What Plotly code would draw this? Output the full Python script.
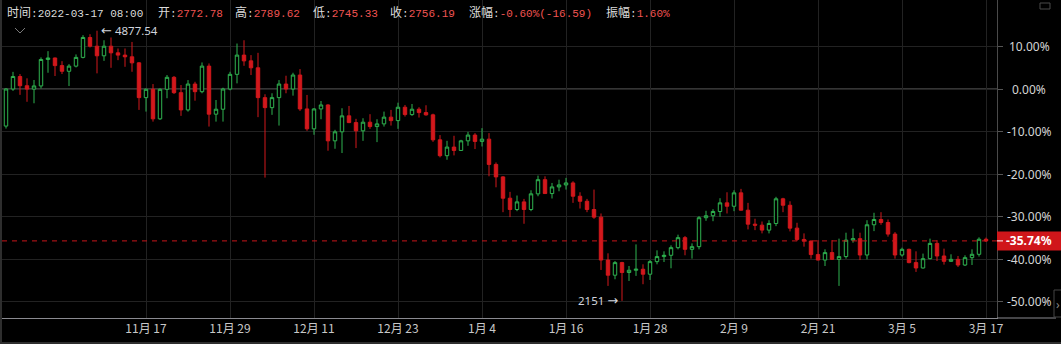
import plotly.graph_objects as go
import pandas as pd

# ---------------- data (ETH daily candles) ----------------
start_date = "2021-10-28"
opens = [3915, 4289, 4415, 4322, 4288, 4320, 4587, 4602, 4525, 4468,
         4520, 4608, 4809, 4721, 4624, 4721, 4654, 4631, 4614, 4553,
         4202, 4286, 3988, 4286, 4407, 4252, 4078, 4339, 4262, 4520,
         4035, 4085, 4289, 4437, 4631, 4573, 4503, 4202, 4101, 4202,
         4339, 4289, 4430, 4088, 3887, 4088, 4128, 3766, 3857, 4018,
         3950, 3867, 3954, 3910, 3937, 4005, 3970, 4105, 4031, 4085,
         4051, 4028, 3776, 3616, 3703, 3669, 3766, 3824, 3760, 3783,
         3528, 3402, 3187, 3073, 3150, 3073, 3231, 3374, 3234, 3301,
         3321, 3341, 3207, 3156, 3073, 2996, 2563, 2410, 2537, 2437,
         2460, 2470, 2420, 2547, 2598, 2611, 2688, 2789, 2671, 2698,
         2990, 3010, 3053, 3140, 3106, 3241, 3066, 2925, 2915, 2865,
         2932, 3181, 3116, 2885, 2771, 2754, 2618, 2563, 2638, 2570,
         2598, 2764, 2779, 2614, 2919, 2972, 2942, 2825, 2614, 2671,
         2537, 2483, 2577, 2731, 2604, 2550, 2570, 2513, 2587, 2621,
         2772.78]
highs = [4297, 4462, 4440, 4397, 4380, 4608, 4671, 4606, 4570, 4540,
         4638, 4832, 4842, 4877.54, 4781, 4809, 4698, 4698, 4764, 4560,
         4296, 4339, 4296, 4430, 4420, 4329, 4379, 4362, 4557, 4547,
         4178, 4302, 4463, 4748, 4781, 4631, 4654, 4236, 4246, 4379,
         4423, 4453, 4490, 4229, 4095, 4168, 4135, 3877, 4095, 4118,
         3988, 3994, 4035, 3984, 4061, 4078, 4151, 4128, 4138, 4105,
         4125, 4040, 3824, 3766, 3817, 3776, 3857, 3844, 3894, 3844,
         3548, 3410, 3251, 3214, 3180, 3267, 3415, 3408, 3341, 3374,
         3392, 3358, 3247, 3180, 3274, 3033, 2631, 2553, 2545, 2503,
         2721, 2520, 2563, 2661, 2651, 2711, 2819, 2805, 2731, 3006,
         3060, 3076, 3187, 3247, 3267, 3281, 3140, 2980, 2952, 2965,
         3201, 3191, 3156, 2939, 2832, 2762, 2764, 2671, 2764, 2779,
         2839, 2879, 2839, 2965, 3040, 3046, 2972, 2845, 2688, 2678,
         2651, 2628, 2779, 2764, 2678, 2621, 2604, 2611, 2671, 2792,
         2789.62]
lows = [3890, 4270, 4230, 4160, 4145, 4295, 4453, 4420, 4440, 4319,
        4507, 4598, 4708, 4447, 4573, 4503, 4580, 4513, 4463, 4078,
        4061, 3960, 3977, 4196, 4239, 4018, 4061, 4171, 4246, 3910,
        3960, 3960, 4276, 4346, 4523, 4430, 4005, 3395, 4028, 3920,
        4246, 4222, 4068, 3867, 3827, 3984, 3666, 3686, 3643, 3945,
        3693, 3766, 3887, 3753, 3910, 3920, 3887, 4011, 4018, 4001,
        4020, 3756, 3599, 3575, 3619, 3665, 3716, 3683, 3709, 3408,
        3297, 3046, 2996, 3056, 2929, 3056, 3207, 3230, 3184, 3257,
        3274, 3140, 3083, 3046, 2979, 2463, 2302, 2369, 2151, 2352,
        2403, 2319, 2362, 2520, 2543, 2480, 2671, 2611, 2577, 2671,
        2959, 2955, 3000, 3033, 3056, 3063, 2872, 2865, 2832, 2832,
        2905, 3046, 2852, 2754, 2698, 2577, 2560, 2503, 2565, 2302,
        2577, 2738, 2563, 2570, 2855, 2919, 2799, 2577, 2598, 2530,
        2443, 2477, 2570, 2553, 2517, 2545, 2493, 2503, 2513, 2598,
        2745.33]
closes = [4289.1, 4415, 4322, 4288, 4320, 4587, 4602, 4525, 4468, 4520,
          4608, 4809, 4721, 4624, 4721, 4654, 4631, 4614, 4553, 4202,
          4286, 3988, 4286, 4407, 4252, 4078, 4339, 4262, 4520, 4035,
          4085, 4289, 4437, 4631, 4573, 4503, 4202, 4101, 4202, 4339,
          4289, 4430, 4088, 3887, 4088, 4128, 3766, 3857, 4018, 3950,
          3867, 3954, 3910, 3937, 4005, 3970, 4105, 4031, 4085, 4051,
          4028, 3776, 3616, 3703, 3669, 3766, 3824, 3760, 3783, 3528,
          3402, 3187, 3073, 3150, 3073, 3231, 3374, 3234, 3301, 3321,
          3341, 3207, 3156, 3073, 2996, 2563, 2410, 2537, 2437, 2460,
          2470, 2420, 2547, 2598, 2611, 2688, 2789, 2671, 2698, 2990,
          3010, 3053, 3140, 3106, 3241, 3066, 2925, 2915, 2865, 2932,
          3181, 3116, 2885, 2771, 2754, 2618, 2563, 2638, 2570, 2598,
          2764, 2779, 2614, 2919, 2972, 2942, 2825, 2614, 2671, 2537,
          2483, 2577, 2731, 2604, 2550, 2570, 2513, 2587, 2621, 2772.78,
          2756.19]

tick_dates = ["2021-11-17", "2021-11-29", "2021-12-11", "2021-12-23", "2022-01-04",
              "2022-01-16", "2022-01-28", "2022-02-09", "2022-02-21", "2022-03-05",
              "2022-03-17"]
tick_labels = ["11月 17", "11月 29", "12月 11", "12月 23", "1月 4", "1月 16",
               "1月 28", "2月 9", "2月 21", "3月 5", "3月 17"]
pct_ticks = [10, 0, -10, -20, -30, -40, -50]

header = [("时间", "2022-03-17 08:00", 5, False),
          ("开", "2772.78", 156, True),
          ("高", "2789.62", 233, True),
          ("低", "2745.33", 311, True),
          ("收", "2756.19", 388, True),
          ("涨幅", "-0.60%(-16.59)", 467, True),
          ("振幅", "1.60%", 604, True)]

# ---------------- derived ----------------
dates = pd.date_range(start_date, periods=len(closes), freq="D")
base = closes[0]
last = closes[-1]
pct_top, pct_bottom = 20.94, -53.88
y_min = base * (1 + pct_bottom / 100)
y_max = base * (1 + pct_top / 100)
per_px = (y_max - y_min) / 318.0

W, H = 1061, 344
ML, MR, MT, MB = 2, 64, 0, 26
PW, PH = W - ML - MR, H - MT - MB


def X(px):
    return (px - ML) / PW


def Y(py):
    return 1 - (py - MT) / PH


GREEN = "#2fb350"
RED = "#d2181c"
GRID = "#222222"

fig = go.Figure()
fig.add_trace(go.Candlestick(
    x=dates, open=opens, high=highs, low=lows, close=closes,
    increasing=dict(line=dict(color=GREEN, width=1), fillcolor="#000000"),
    decreasing=dict(line=dict(color=RED, width=1), fillcolor=RED),
    whiskerwidth=0, hoverinfo="skip", showlegend=False,
))

x0 = dates[0] - pd.Timedelta(hours=13.7)
x1 = dates[0] + pd.Timedelta(days=141) + pd.Timedelta(hours=13.7)

shapes = []
annotations = []

# 0% line
shapes.append(dict(type="line", xref="paper", yref="y", x0=0, x1=1, y0=base, y1=base,
                   line=dict(color="#6a6a6a", width=1), layer="below"))
# dashed last-price line
shapes.append(dict(type="line", xref="paper", yref="y", x0=0, x1=1, y0=last, y1=last,
                   line=dict(color="#c8161a", width=1, dash="5px,5px")))
# last-price label box
hh = 9.5 * per_px
shapes.append(dict(type="rect", xref="paper", yref="y", x0=X(997), x1=X(1061),
                   y0=last - hh, y1=last + hh, fillcolor="#d0161a", line=dict(width=0)))
shapes.append(dict(type="line", xref="paper", yref="y", x0=X(997), x1=X(1003),
                   y0=last, y1=last, line=dict(color="#ffffff", width=1)))
pct_last = (last / base - 1) * 100
annotations.append(dict(xref="paper", yref="y", x=X(1029), y=last, text=f"<b>{pct_last:.2f}%</b>",
                        showarrow=False, xanchor="center", yanchor="middle",
                        font=dict(family="Noto Sans", size=12, color="#ffffff")))
# bottom axis line extension
shapes.append(dict(type="line", xref="paper", yref="paper", x0=1, x1=X(1056), y0=0, y1=0,
                   line=dict(color="#8a8a90", width=1)))
# borders
shapes.append(dict(type="line", xref="paper", yref="paper", x0=X(1), x1=X(1), y0=Y(0), y1=Y(344),
                   line=dict(color="#2e2e2e", width=2)))
shapes.append(dict(type="line", xref="paper", yref="paper", x0=X(0), x1=X(1061), y0=Y(343), y1=Y(343),
                   line=dict(color="#2e2e2e", width=2)))
# chevron top-left
shapes.append(dict(type="path", xref="paper", yref="paper",
                   path=f"M {X(15)},{Y(28)} L {X(20)},{Y(33)} L {X(25)},{Y(28)}",
                   line=dict(color="#7a7a7a", width=1)))
# small icon top-right
shapes.append(dict(type="rect", xref="paper", yref="paper", x0=X(1040), x1=X(1050),
                   y0=Y(9), y1=Y(3), line=dict(color="#4a4a4a", width=1)))
# right side tab
shapes.append(dict(type="rect", xref="paper", yref="paper", x0=X(1054), x1=X(1063),
                   y0=Y(317), y1=Y(290), line=dict(color="#444444", width=1), fillcolor="#000000"))
annotations.append(dict(xref="paper", yref="paper", x=X(1058), y=Y(304), text="›", showarrow=False,
                        font=dict(family="Noto Sans", size=12, color="#888888"),
                        xanchor="center", yanchor="middle"))

# y tick labels (centered in right gutter)
for p in pct_ticks:
    annotations.append(dict(xref="paper", yref="y", x=X(1029), y=base * (1 + p / 100),
                            text=f"{p:.2f}%", showarrow=False, xanchor="center", yanchor="middle",
                            font=dict(family="Noto Sans", size=12, color="#d4d4d4")))

# high / low markers
ARROW = "font-family:'DejaVu Sans';font-size:13px"
hi_i = max(range(len(highs)), key=lambda i: highs[i])
lo_i = min(range(len(lows)), key=lambda i: lows[i])
annotations.append(dict(x=dates[hi_i], y=highs[hi_i],
                        text=f"<span style=\"{ARROW}\">←</span> {highs[hi_i]:.2f}", showarrow=False,
                        xanchor="left", yanchor="middle", xshift=2,
                        font=dict(family="Noto Sans", size=11.5, color="#d0d4dc")))
annotations.append(dict(x=dates[lo_i], y=lows[lo_i],
                        text=f"{lows[lo_i]:g} <span style=\"{ARROW}\">→</span>", showarrow=False,
                        xanchor="right", yanchor="middle", xshift=-2,
                        font=dict(family="Noto Sans", size=11.5, color="#d0d4dc")))

# header
for lab, val, px, red in header:
    vcol = "#f05452" if red else "#dcdcdc"
    txt = (f"<span style=\"font-family:'Noto Sans CJK SC';font-size:12px;fill:#dcdcdc\">{lab}</span>"
           f"<span style=\"fill:#dcdcdc\">:</span>"
           f"<span style=\"fill:{vcol}\">{val}</span>")
    annotations.append(dict(xref="paper", yref="paper", x=X(px), y=Y(12), text=txt, showarrow=False,
                            xanchor="left", yanchor="middle",
                            font=dict(family="Liberation Mono", size=11, color="#dcdcdc")))

fig.update_layout(
    width=W, height=H, margin=dict(l=ML, r=MR, t=MT, b=MB),
    paper_bgcolor="#000000", plot_bgcolor="#000000",
    showlegend=False, boxgap=0.3,
    shapes=shapes, annotations=annotations,
    xaxis=dict(type="date", range=[x0, x1], rangeslider=dict(visible=False),
               tickvals=tick_dates, ticktext=tick_labels, showgrid=True, gridcolor=GRID,
               gridwidth=1, ticks="", showline=True, linecolor="#8a8a90", linewidth=1,
               zeroline=False, tickfont=dict(family="Noto Sans CJK SC", size=12, color="#c8c8c8")),
    yaxis=dict(side="right", range=[y_min, y_max], tickvals=[base * (1 + p / 100) for p in pct_ticks],
               showticklabels=False, showgrid=True, gridcolor=GRID, gridwidth=1,
               ticks="outside", ticklen=5, tickcolor="#555555", showline=True,
               linecolor="#4a4a4a", linewidth=1, zeroline=False),
)

fig.write_html("out.html")
